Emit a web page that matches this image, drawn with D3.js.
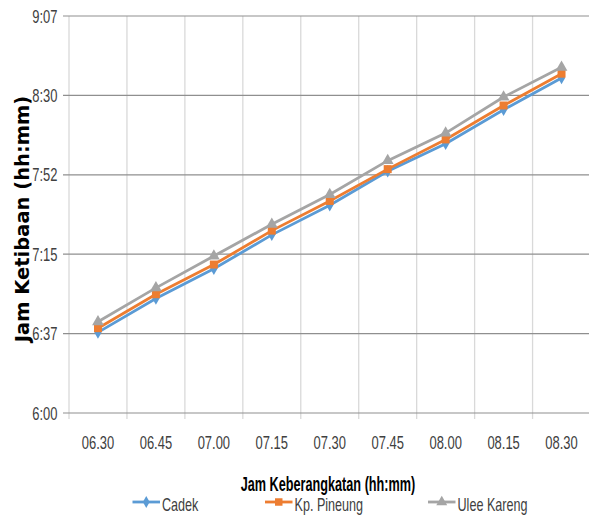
<!DOCTYPE html>
<html><head><meta charset="utf-8">
<script src="https://cdn.jsdelivr.net/npm/d3@7"></script>
<style>
html,body{margin:0;padding:0;background:#fff;}
svg{display:block;}
text{font-family:"Liberation Sans",Arial,sans-serif;fill:#404040;}
</style></head>
<body>
<svg id="chart" width="589" height="515"></svg>
<script>
const categories = ["06.30","06.45","07.00","07.15","07.30","07.45","08.00","08.15","08.30"];
const seriesNames = ["Cadek","Kp. Pineung","Ulee Kareng"];
const cadek      = ["6:38","6:54","7:08","7:24","7:38","7:54","8:07","8:23","8:38"];
const kpPineung  = ["6:40","6:56","7:10","7:26","7:40","7:55","8:09","8:25","8:40"];
const uleeKareng = ["6:43","6:59","7:14","7:29","7:43","7:59","8:12","8:29","8:43"];
const yTickMinutes = [360, 397.44, 434.88, 472.32, 509.76, 547.2];
const colors = ["#5B9BD5","#ED7D31","#A5A5A5"];
const symbols = [d3.symbolDiamond, d3.symbolSquare, d3.symbolTriangle];

const toMin = s => { const [h,m] = s.split(":").map(Number); return h*60+m; };
const fmt = v => { const r = Math.round(v); return Math.floor(r/60) + ":" + String(r%60).padStart(2,"0"); };

const series = [cadek, kpPineung, uleeKareng].map((vals,i)=>({name:seriesNames[i], color:colors[i], sym:symbols[i], values:vals.map((v,j)=>({cat:categories[j], t:toMin(v)}))}));

const svg = d3.select("#chart");
const pLeft = 69, pRight = 590.5, pTop = 16, pBottom = 413;
const x = d3.scaleBand().domain(categories).range([pLeft, pRight]).padding(0);
const y = d3.scaleLinear().domain([360, 547.2]).range([pBottom, pTop]);
const SX = 0.72; // narrow text
const tr = (px, py, s=SX) => `translate(${px},${py}) scale(${s},1)`;

// vertical gridlines (category boundaries) incl. tick extension
const bounds = categories.map(c => x(c)).concat([pRight]);
svg.append("g").selectAll("line").data(bounds).join("line")
  .attr("x1", d=>d).attr("x2", d=>d).attr("y1", pTop).attr("y2", pBottom+6)
  .attr("stroke", "#d9d9d9").attr("stroke-width", 1.3);

// horizontal gridlines
svg.append("g").selectAll("line").data(yTickMinutes).join("line")
  .attr("x1", pLeft-6).attr("x2", pRight).attr("y1", d=>y(d)).attr("y2", d=>y(d))
  .attr("stroke", "#8f8f8f").attr("stroke-width", 1.2);

// y axis labels
svg.append("g").selectAll("text").data(yTickMinutes).join("text")
  .attr("transform", d=>tr(57.5, y(d)+6.5)).attr("text-anchor","end")
  .style("font-size","18px").text(fmt);

// x axis labels
svg.append("g").selectAll("text").data(categories).join("text")
  .attr("transform", d=>tr(x(d)+x.bandwidth()/2, 449)).attr("text-anchor","middle")
  .style("font-size","18px").text(d=>d);

// axis titles
svg.append("text").attr("transform","translate(29,219) rotate(-90)")
  .attr("text-anchor","middle")
  .style("font-family","'DejaVu Sans',Verdana,sans-serif").style("font-weight","bold")
  .style("font-size","19.5px").style("fill","#000").text("Jam Ketibaan (hh:mm)");
svg.append("text").attr("transform", tr(328, 491, 0.65)).attr("text-anchor","middle")
  .style("font-weight","bold").style("font-size","19.5px").style("fill","#000")
  .text("Jam Keberangkatan (hh:mm)");

// lines
const line = d3.line().x(d=>x(d.cat)+x.bandwidth()/2).y(d=>y(d.t));
const g = svg.append("g");
series.forEach(s=>{
  g.append("path").datum(s.values).attr("d", line)
    .attr("fill","none").attr("stroke", s.color).attr("stroke-width", 2.8);
  g.selectAll(null).data(s.values).join("path")
    .attr("transform", d=>`translate(${x(d.cat)+x.bandwidth()/2},${y(d.t)})`)
    .attr("d", d3.symbol().type(s.sym).size(s.sym===d3.symbolSquare?64:(s.sym===d3.symbolTriangle?60:45)))
    .attr("fill", s.color);
});

// legend
const legendX = [132.5, 265, 428];
const lg = svg.append("g");
series.forEach((s,i)=>{
  const lx = legendX[i], ly = 502;
  lg.append("line").attr("x1", lx).attr("x2", lx+27.5).attr("y1", ly).attr("y2", ly)
    .attr("stroke", s.color).attr("stroke-width", 2.8);
  lg.append("path").attr("transform",`translate(${lx+13.75},${ly})`)
    .attr("d", d3.symbol().type(s.sym).size(s.sym===d3.symbolSquare?56:(s.sym===d3.symbolTriangle?52:40)))
    .attr("fill", s.color);
  lg.append("text").attr("transform", tr(lx+29.5, 511)).style("font-size","17.5px").text(s.name);
});
</script>
</body></html>
